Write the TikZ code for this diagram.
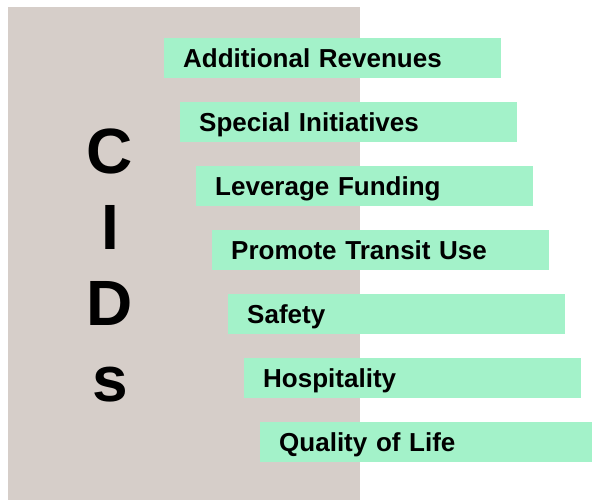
\documentclass[tikz,border=0pt]{standalone}
\usepackage{fontspec}
\setmainfont{Liberation Sans}
\definecolor{cidgrey}{RGB}{214,206,201}
\definecolor{cidgreen}{RGB}{163,242,201}

\begin{document}
\begin{tikzpicture}[x=1pt,y=-1pt,
        goal/.style={fill=cidgreen, anchor=west, minimum height=40pt,
            text width=299pt, inner xsep=19pt, align=left,
            text height=19pt, text depth=0pt,
            font=\fontsize{26}{30}\selectfont\bfseries},
        letters/.style={align=center, anchor=north,
            font=\fontsize{64}{76}\selectfont\bfseries}]
            \useasboundingbox (0,0) rectangle (592,500);
            \fill[cidgrey] (8,7) rectangle (360,500);

            % the one word, written down the grey band
            \node[letters] (cids) at (110,125) {C\\I\\D\\s};

            % the goals, each one step right and down
            \foreach \label [count=\i from 0] in {Additional Revenues,
                    Special Initiatives, Leverage Funding, Promote Transit Use,
                    Safety, Hospitality, Quality of Life}
                \node[goal] (goal\i) at (164+16*\i, 58+64*\i) {\label};
        \end{tikzpicture}
\end{document}
